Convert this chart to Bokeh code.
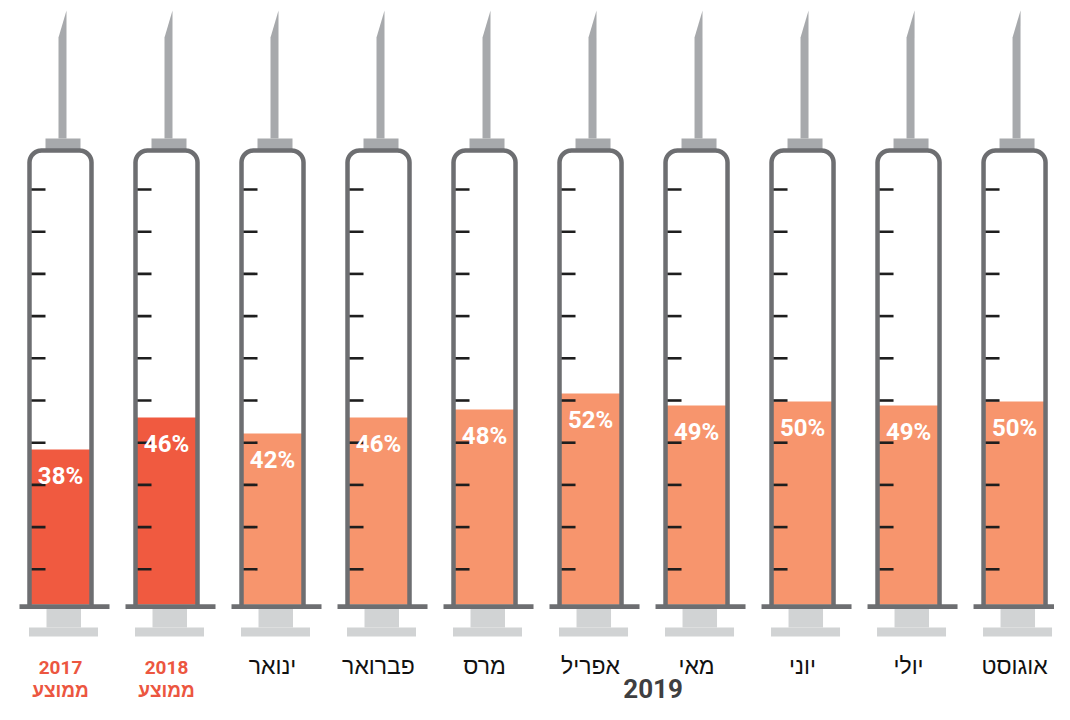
import numpy as np
from bokeh.plotting import figure
from bokeh.models import Range1d
from bokeh.core.properties import value
from bokeh.embed import file_html
from bokeh.resources import INLINE

# ---------------- data ----------------
categories = ["2017", "2018", "ינואר", "פברואר", "מרס", "אפריל", "מאי", "יוני", "יולי", "אוגוסט"]
shares = [38, 46, 42, 46, 48, 52, 49, 50, 49, 50]
is_average = [True, True, False, False, False, False, False, False, False, False]
average_word = "ממוצע"
group_label = "2019"
pct_labels = [f"{v}%" for v in shares]

# ---------------- style ----------------
RED = "#F05A40"
SALMON = "#F7956D"
RED_TEXT = "#EC5640"
BORDER = "#6D6E71"
NEEDLE = "#A7A9AC"
PLUNGER = "#D1D3D4"
TICK = "#1E1E1E"
PXX = 106.0  # pixels per category unit

W, H = 1054, 704
p = figure(width=W, height=H, x_range=Range1d(-0.566, 9.377), y_range=Range1d(-25.75, 150.25),
           output_backend="svg", toolbar_location=None, min_border=0,
           x_axis_type=None, y_axis_type=None, outline_line_color=None,
           background_fill_color="white", border_fill_color="white")
# decorative layer in pixel units (flipped)
p.extra_y_ranges = {"px": Range1d(704, 0)}

idx = np.arange(len(categories))
fills = [RED if a else SALMON for a in is_average]

def ox(i, dx):
    return i + dx / PXX

# needle
nx, ny = [], []
for i in idx:
    nx.append([ox(i, -2), ox(i, 6), ox(i, 6), ox(i, -2)])
    ny.append([138, 138, 10, 37])
p.patches(nx, ny, y_range_name="px", fill_color=NEEDLE, line_color=None)
# collar
p.quad(left=[ox(i, -15) for i in idx], right=[ox(i, 20) for i in idx], top=138, bottom=149,
       y_range_name="px", fill_color=NEEDLE, line_color=None)

# fill level (data)
p.vbar(x=idx, top=shares, bottom=-0.75, width=60 / PXX, fill_color=fills, line_color=None)

# scale ticks
tx0, tx1, ty = [], [], []
for i in idx:
    for k in range(10):
        tx0.append(ox(i, -31)); tx1.append(ox(i, -15)); ty.append(189 + 42.2 * k)
p.segment(x0=tx0, x1=tx1, y0=ty, y1=ty, y_range_name="px", line_color=TICK, line_width=2.6)

# barrel outline
r = 12.0
left, right, topy, boty = -31.0, 31.0, 150.0, 606.0
ang = np.linspace(np.pi, np.pi / 2, 10)
ang2 = np.linspace(np.pi / 2, 0, 10)
pxs = [left] + list(left + r + r * np.cos(ang)) + list(right - r + r * np.cos(ang2)) + [right]
pys = [boty] + list(topy + r - r * np.sin(ang)) + list(topy + r - r * np.sin(ang2)) + [boty]
bx = [[ox(i, d) for d in pxs] for i in idx]
by = [list(pys) for _ in idx]
p.multi_line(bx, by, y_range_name="px", line_color=BORDER, line_width=4.5)

# flange and plunger
p.quad(left=[ox(i, -41) for i in idx], right=[ox(i, 49) for i in idx], top=603.8, bottom=608.5,
       y_range_name="px", fill_color=BORDER, line_color=None)
p.quad(left=[ox(i, -14) for i in idx], right=[ox(i, 20.5) for i in idx], top=608.5, bottom=627,
       y_range_name="px", fill_color=PLUNGER, line_color=None)
p.quad(left=[ox(i, -31.5) for i in idx], right=[ox(i, 37.5) for i in idx], top=627, bottom=636,
       y_range_name="px", fill_color=PLUNGER, line_color=None)

# percentage labels
p.text(x=idx, y=[v - 6.7 for v in shares], text=pct_labels, text_align="center",
       text_baseline="alphabetic", text_color="white", text_font=value("Roboto"),
       text_font_style="bold", text_font_size="24px")

# category labels
avg_i = [i for i in idx if is_average[i]]
mon_i = [i for i in idx if not is_average[i]]
p.text(x=mon_i, y=[665] * len(mon_i), text=[categories[i] for i in mon_i], y_range_name="px",
       text_align="center", text_baseline="alphabetic", text_color="#111111",
       text_font=value("Liberation Sans"), text_font_size="23px")
p.text(x=avg_i, y=[667] * len(avg_i), text=[categories[i] for i in avg_i], y_range_name="px",
       text_align="center", text_baseline="alphabetic", text_color=RED_TEXT,
       text_font=value("Roboto"), text_font_style="bold", text_font_size="19px")
p.text(x=avg_i, y=[690] * len(avg_i), text=[average_word] * len(avg_i), y_range_name="px",
       text_align="center", text_baseline="alphabetic", text_color=RED_TEXT,
       text_font=value("Liberation Sans"), text_font_style="bold", text_font_size="19px")
p.text(x=[5.59], y=[688], text=[group_label], y_range_name="px",
       text_align="center", text_baseline="alphabetic", text_color="#3F3F41",
       text_font=value("Roboto"), text_font_style="bold", text_font_size="26px")

open("out.html", "w").write(file_html(p, INLINE))
